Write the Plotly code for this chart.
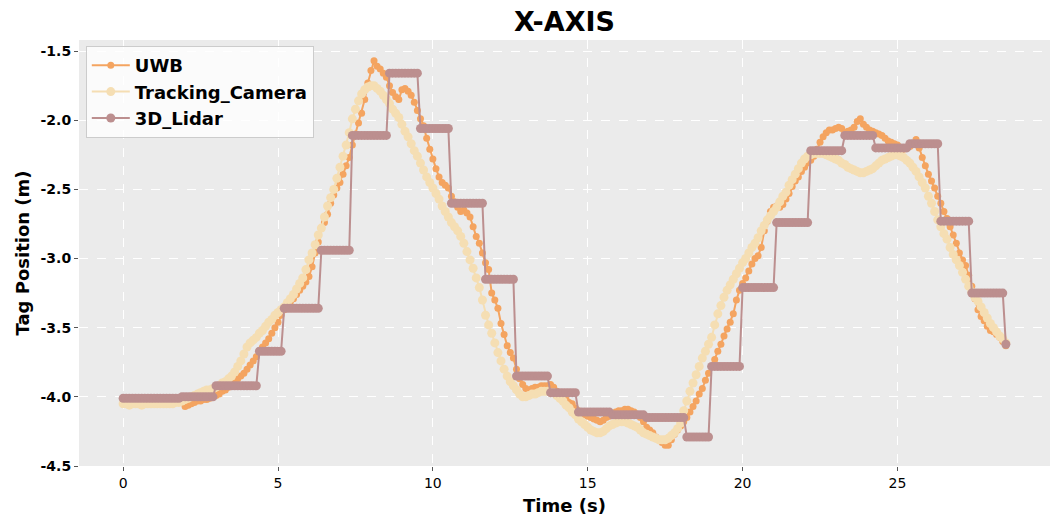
import plotly.graph_objects as go

# Tag X position logged at 10 Hz by three sensors
SAMPLE_PERIOD = 0.1  # s

uwb_x = [
    -4.02, -4.02, -4.03, -4.02, -4.02, -4.01, -4.02, -4.02, -4.03, -4.02,
    -4.02, -4.02, -4.01, -4.02, -4.02, -4.03, -4.02, -4.02, -4.03, -4.04,
    -4.07, -4.06, -4.05, -4.04, -4.03, -4.03, -4.02, -4.02, -4.01, -4.00,
    -3.99, -3.98, -3.96, -3.95, -3.93, -3.91, -3.90, -3.87, -3.85, -3.83,
    -3.80, -3.77, -3.74, -3.71, -3.67, -3.64, -3.61, -3.58, -3.54, -3.50,
    -3.46, -3.41, -3.37, -3.34, -3.31, -3.29, -3.26, -3.23, -3.20, -3.17,
    -3.13, -3.06, -2.96, -2.88, -2.78, -2.74, -2.68, -2.60, -2.54, -2.49,
    -2.45, -2.39, -2.33, -2.27, -2.18, -2.10, -2.02, -1.95, -1.85, -1.73,
    -1.64, -1.57, -1.61, -1.63, -1.66, -1.69, -1.75, -1.80, -1.83, -1.85,
    -1.78, -1.77, -1.79, -1.82, -1.87, -1.93, -1.99, -2.04, -2.13, -2.21,
    -2.28, -2.35, -2.41, -2.45, -2.47, -2.49, -2.55, -2.59, -2.63, -2.66,
    -2.65, -2.67, -2.70, -2.77, -2.84, -2.89, -2.96, -3.03, -3.08, -3.25,
    -3.30, -3.36, -3.47, -3.55, -3.63, -3.68, -3.72, -3.80, -3.87, -3.91,
    -3.94, -3.95, -3.94, -3.93, -3.93, -3.92, -3.92, -3.92, -3.91, -3.93,
    -3.96, -3.99, -4.01, -4.02, -4.04, -4.05, -4.08, -4.10, -4.11, -4.13,
    -4.14, -4.15, -4.16, -4.17, -4.18, -4.17, -4.15, -4.14, -4.12, -4.11,
    -4.10, -4.10, -4.09, -4.09, -4.10, -4.11, -4.13, -4.15, -4.18, -4.22,
    -4.24, -4.26, -4.29, -4.31, -4.33, -4.35, -4.35, -4.31, -4.27, -4.24,
    -4.21, -4.18, -4.15, -4.11, -4.07, -4.03, -3.98, -3.94, -3.88, -3.83,
    -3.78, -3.73, -3.67, -3.62, -3.56, -3.51, -3.46, -3.40, -3.30, -3.23,
    -3.18, -3.14, -3.09, -3.04, -3.00, -2.98, -2.92, -2.80, -2.73, -2.66,
    -2.63, -2.62, -2.63, -2.61, -2.57, -2.53, -2.48, -2.44, -2.41, -2.37,
    -2.34, -2.31, -2.29, -2.26, -2.21, -2.16, -2.12, -2.09, -2.07, -2.07,
    -2.06, -2.05, -2.06, -2.09, -2.08, -2.07, -2.05, -2.01, -1.99, -2.03,
    -2.05, -2.07, -2.08, -2.09, -2.10, -2.11, -2.13, -2.15, -2.16, -2.17,
    -2.18, -2.20, -2.21, -2.20, -2.19, -2.17, -2.14, -2.20, -2.27, -2.33,
    -2.39, -2.44, -2.49, -2.55, -2.60, -2.66, -2.71, -2.77, -2.83, -2.89,
    -2.96, -3.01, -3.05, -3.12, -3.20, -3.29, -3.37, -3.42, -3.45, -3.49,
    -3.52, -3.53, -3.55, -3.57, -3.60, -3.63,
]

camera_x = [
    -4.05, -4.05, -4.06, -4.05, -4.05, -4.05, -4.06, -4.05, -4.05, -4.05,
    -4.05, -4.05, -4.05, -4.05, -4.05, -4.05, -4.05, -4.04, -4.04, -4.03,
    -4.02, -4.01, -4.00, -3.99, -3.98, -3.97, -3.96, -3.95, -3.95, -3.94,
    -3.93, -3.92, -3.90, -3.89, -3.87, -3.85, -3.82, -3.78, -3.74, -3.69,
    -3.64, -3.61, -3.59, -3.57, -3.54, -3.52, -3.49, -3.46, -3.44, -3.41,
    -3.39, -3.37, -3.35, -3.32, -3.29, -3.26, -3.22, -3.18, -3.14, -3.08,
    -3.01, -2.96, -2.90, -2.83, -2.78, -2.70, -2.62, -2.56, -2.50, -2.42,
    -2.34, -2.26, -2.18, -2.09, -1.99, -1.92, -1.86, -1.81, -1.78, -1.76,
    -1.75, -1.75, -1.77, -1.79, -1.82, -1.85, -1.88, -1.92, -1.95, -1.98,
    -2.03, -2.08, -2.12, -2.17, -2.22, -2.26, -2.31, -2.36, -2.41, -2.45,
    -2.49, -2.53, -2.57, -2.62, -2.66, -2.70, -2.74, -2.77, -2.80, -2.84,
    -2.89, -2.95, -3.01, -3.07, -3.14, -3.21, -3.30, -3.41, -3.48, -3.54,
    -3.61, -3.68, -3.74, -3.80, -3.85, -3.89, -3.92, -3.95, -3.98, -4.00,
    -4.00, -3.99, -3.98, -3.98, -3.97, -3.96, -3.96, -3.96, -3.97, -3.97,
    -3.99, -4.01, -4.03, -4.06, -4.08, -4.11, -4.13, -4.16, -4.18, -4.20,
    -4.22, -4.24, -4.25, -4.26, -4.26, -4.25, -4.23, -4.21, -4.20, -4.19,
    -4.18, -4.18, -4.18, -4.19, -4.20, -4.21, -4.22, -4.24, -4.26, -4.27,
    -4.28, -4.29, -4.30, -4.31, -4.31, -4.31, -4.30, -4.28, -4.26, -4.23,
    -4.19, -4.10, -4.03, -3.96, -3.90, -3.84, -3.78, -3.72, -3.67, -3.62,
    -3.57, -3.48, -3.40, -3.34, -3.28, -3.23, -3.19, -3.15, -3.11, -3.07,
    -3.03, -3.00, -2.96, -2.92, -2.89, -2.85, -2.80, -2.76, -2.72, -2.69,
    -2.66, -2.63, -2.59, -2.55, -2.52, -2.47, -2.43, -2.39, -2.35, -2.31,
    -2.28, -2.26, -2.25, -2.24, -2.24, -2.24, -2.24, -2.25, -2.26, -2.27,
    -2.28, -2.29, -2.31, -2.32, -2.34, -2.35, -2.36, -2.37, -2.38, -2.38,
    -2.37, -2.36, -2.35, -2.33, -2.31, -2.29, -2.28, -2.27, -2.26, -2.25,
    -2.25, -2.26, -2.27, -2.29, -2.31, -2.34, -2.37, -2.41, -2.45, -2.49,
    -2.55, -2.60, -2.66, -2.72, -2.77, -2.82, -2.86, -2.92, -2.97, -3.01,
    -3.05, -3.10, -3.15, -3.20, -3.24, -3.28, -3.31, -3.35, -3.39, -3.43,
    -3.47, -3.50, -3.53, -3.56, -3.58, -3.61,
]

# Lidar output is refreshed about once per second and held between updates
lidar_x = [
    -4.01, -4.01, -4.01, -4.01, -4.01, -4.01, -4.01, -4.01, -4.01, -4.01,
    -4.01, -4.01, -4.01, -4.01, -4.01, -4.01, -4.01, -4.01, -4.01,
    -4.00, -4.00, -4.00, -4.00, -4.00, -4.00, -4.00, -4.00, -4.00, -4.00, -4.00,
    -3.92, -3.92, -3.92, -3.92, -3.92, -3.92, -3.92, -3.92, -3.92, -3.92,
    -3.92, -3.92, -3.92, -3.92,
    -3.67, -3.67, -3.67, -3.67, -3.67, -3.67, -3.67, -3.67,
    -3.36, -3.36, -3.36, -3.36, -3.36, -3.36, -3.36, -3.36, -3.36, -3.36, -3.36, -3.36,
    -2.94, -2.94, -2.94, -2.94, -2.94, -2.94, -2.94, -2.94, -2.94, -2.94,
    -2.11, -2.11, -2.11, -2.11, -2.11, -2.11, -2.11, -2.11, -2.11, -2.11, -2.11, -2.11,
    -1.66, -1.66, -1.66, -1.66, -1.66, -1.66, -1.66, -1.66, -1.66, -1.66,
    -2.06, -2.06, -2.06, -2.06, -2.06, -2.06, -2.06, -2.06, -2.06, -2.06,
    -2.60, -2.60, -2.60, -2.60, -2.60, -2.60, -2.60, -2.60, -2.60, -2.60, -2.60,
    -3.15, -3.15, -3.15, -3.15, -3.15, -3.15, -3.15, -3.15, -3.15, -3.15,
    -3.85, -3.85, -3.85, -3.85, -3.85, -3.85, -3.85, -3.85, -3.85, -3.85, -3.85,
    -3.97, -3.97, -3.97, -3.97, -3.97, -3.97, -3.97, -3.97, -3.97,
    -4.11, -4.11, -4.11, -4.11, -4.11, -4.11, -4.11, -4.11, -4.11, -4.11, -4.11,
    -4.13, -4.13, -4.13, -4.13, -4.13, -4.13, -4.13, -4.13, -4.13, -4.13, -4.13,
    -4.15, -4.15, -4.15, -4.15, -4.15, -4.15, -4.15, -4.15, -4.15, -4.15,
    -4.15, -4.15, -4.15,
    -4.29, -4.29, -4.29, -4.29, -4.29, -4.29, -4.29, -4.29,
    -3.78, -3.78, -3.78, -3.78, -3.78, -3.78, -3.78, -3.78, -3.78, -3.78,
    -3.21, -3.21, -3.21, -3.21, -3.21, -3.21, -3.21, -3.21, -3.21, -3.21, -3.21,
    -2.74, -2.74, -2.74, -2.74, -2.74, -2.74, -2.74, -2.74, -2.74, -2.74, -2.74,
    -2.22, -2.22, -2.22, -2.22, -2.22, -2.22, -2.22, -2.22, -2.22, -2.22, -2.22,
    -2.11, -2.11, -2.11, -2.11, -2.11, -2.11, -2.11, -2.11, -2.11, -2.11,
    -2.20, -2.20, -2.20, -2.20, -2.20, -2.20, -2.20, -2.20, -2.20, -2.20, -2.20,
    -2.17, -2.17, -2.17, -2.17, -2.17, -2.17, -2.17, -2.17, -2.17, -2.17,
    -2.73, -2.73, -2.73, -2.73, -2.73, -2.73, -2.73, -2.73, -2.73, -2.73,
    -3.25, -3.25, -3.25, -3.25, -3.25, -3.25, -3.25, -3.25, -3.25, -3.25, -3.25,
    -3.62,
]

time_s = [round(i * SAMPLE_PERIOD, 1) for i in range(len(uwb_x))]

x_ticks = [0, 5, 10, 15, 20, 25]
y_ticks = [-1.5, -2.0, -2.5, -3.0, -3.5, -4.0, -4.5]
y_tick_labels = ["-1.5", "-2.0", "-2.5", "-3.0", "-3.5", "-4.0", "-4.5"]

series = [
    ("UWB", uwb_x, "#F4A460", 7),
    ("Tracking_Camera", camera_x, "#F5DEB3", 9),
    ("3D_Lidar", lidar_x, "#BC8F8F", 9),
]

FONT = "DejaVu Sans"

fig = go.Figure()
for name, values, color, msize in series:
    fig.add_trace(go.Scatter(
        x=time_s[:len(values)], y=values, name=name, mode="lines+markers",
        line=dict(color=color, width=2),
        marker=dict(color=color, size=msize),
    ))

fig.update_layout(
    width=1051, height=516,
    margin=dict(l=79, r=1, t=40, b=50),
    paper_bgcolor="white",
    plot_bgcolor="#EBEBEB",
    font=dict(family=FONT, color="black"),
    title=dict(
        text="X-AXIS", x=0.5, xref="paper", xanchor="center",
        y=1 - 22 / 516, yref="container", yanchor="middle",
        font=dict(family=FONT, size=27, weight="bold", color="black"),
    ),
    legend=dict(
        x=0.007, y=0.986, xanchor="left", yanchor="top",
        bgcolor="rgba(255,255,255,0.8)", bordercolor="#CCCCCC", borderwidth=1,
        font=dict(family=FONT, size=18, weight="bold", color="black"),
        tracegroupgap=0, itemwidth=38,
    ),
    showlegend=True,
)

fig.update_xaxes(
    range=[-1.425, 29.925], tickvals=x_ticks,
    ticks="outside", ticklen=4, tickcolor="#555555",
    tickfont=dict(family=FONT, size=14, color="black"),
    showgrid=True, gridcolor="white", gridwidth=1, griddash="dash",
    zeroline=False, showline=False,
    title=dict(text="Time (s)", standoff=9,
               font=dict(family=FONT, size=18, weight="bold", color="black")),
)
fig.update_yaxes(
    range=[-4.5, -1.42], tickvals=y_ticks, ticktext=y_tick_labels,
    ticks="outside", ticklen=4, tickcolor="#555555",
    tickfont=dict(family=FONT, size=14, weight="bold", color="black"),
    showgrid=True, gridcolor="white", gridwidth=1, griddash="dash",
    zeroline=False, showline=False,
    title=dict(text="Tag Position (m)", standoff=6,
               font=dict(family=FONT, size=18, weight="bold", color="black")),
)

fig.write_html("out.html")
